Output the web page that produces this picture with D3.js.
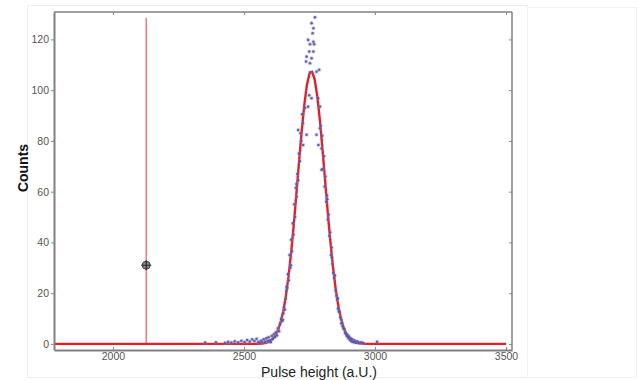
<!DOCTYPE html>
<html><head><meta charset="utf-8">
<script src="https://cdn.jsdelivr.net/npm/d3@7"></script>
<style>body{margin:0;background:#fff}svg{display:block}</style>
</head><body>
<svg id="chart" width="638" height="380"></svg>
<script>
// ---- data ----
const xTicks = [2000, 2500, 3000, 3500];
const yTicks = [0, 20, 40, 60, 80, 100, 120];
const xLabel = "Pulse height (a.U.)";
const yLabel = "Counts";

// measured histogram points
const dataX = [2352,2393,2428,2440,2452,2465,2478,2490,2502,2512,2522,2531,2540,2548,2555,
  2560,2565,2570,2575,2580,2585,2590,2594,2598,2602,2606,2610,2614,2618,2622,2626,2630,2634,2638,2642,2646,
  2650,2653,2656,2659,2662,2665,2668,2671,2674,2677,2680,2683,2686,2689,2692,2695,2698,2701,2704,2707,2710,
  2713,2716,2719,2722,2725,2726,2733,2739,2707,2648,2663,2679,2700,
  2737,2739,2745,2745,2749,2749,2752,2752,2752,2758,2758,2758,2762,2765,2765,2765,2768,2771,2777,2777,2783,2787,2790,2790,2784,2796,
  2793,2796,2799,2802,2805,2808,2811,2814,2817,2820,2823,2826,2829,2832,2835,2838,2841,2844,2847,2850,2853,2856,2859,2862,
  2865,2868,2871,2874,2877,2880,2883,2886,2889,2892,2895,2898,2901,2904,2907,2910,2914,2918,2922,2927,2933,2940,2948,2956,3008,
  2818,2836,2858,2872];
const dataY = [0.5,0.6,0.4,0.8,0.5,1.0,0.6,1.2,0.7,1.5,0.9,1.8,1.1,2.0,0.8,
  0.3,1.2,0.6,1.8,0.9,2.2,1.1,2.6,1.4,0.7,3.1,2.0,3.8,2.7,4.6,3.3,6.2,5.0,7.9,9.8,9.0,
  12.1,14.6,13.5,17.8,20.9,22.0,27.5,25.0,35.0,30.0,41.0,36.5,47.5,43.0,55.0,50.0,61.5,58.0,67.0,64.5,75.0,
  72.0,83.0,80.0,90.5,87.0,78.4,93.0,82.4,84.3,9.5,22.5,31.0,63.0,
  111.3,113.2,119.8,93.5,115.2,98.0,118.1,110.6,107.0,126.4,112.6,96.8,122.4,124.4,119.1,115.2,118.1,128.7,107.3,82.4,96.8,108.0,93.5,85.0,78.4,68.6,
  86.0,77.0,82.0,69.0,74.0,62.0,66.0,56.0,58.5,49.0,51.0,42.5,44.0,35.0,38.0,31.5,28.0,26.0,27.0,21.0,19.0,17.5,14.0,13.0,
  12.5,10.5,9.6,8.3,7.0,6.2,5.8,4.4,4.0,3.1,3.6,2.3,2.9,1.6,2.2,1.0,1.8,0.7,1.3,0.5,1.0,0.4,0.6,0.3,0.8,
  57.0,34.0,18.0,8.0];

// gaussian fit curve
const fitX = [1775,2540,2550,2560,2570,2580,2590,2600,2610,2620,2630,2640,2650,2660,2670,2680,2690,2700,2710,2720,2730,2740,2750,2760,
  2770,2780,2790,2800,2810,2820,2830,2840,2850,2860,2870,2880,2890,2900,2910,2920,2930,2940,2950,2960,3500];
const fitY = [0,0,0.04,0.08,0.17,0.33,0.62,1.13,1.98,3.34,5.45,8.55,12.9,18.9,26.5,35.9,46.9,59.0,71.5,83.5,93.9,101.9,106.5,107.3,
  104.2,97.5,87.9,76.4,64.0,51.6,40.1,30.1,21.7,15.1,10.1,6.55,4.08,2.45,1.42,0.79,0.42,0.22,0.11,0.05,0];

// threshold line and marker
const thresholdX = [2127, 2127];
const thresholdY = [0, 128.5];
const markerX = [2127];
const markerY = [31];

// ---- drawing ----
const svg = d3.select("#chart");
const L = 54, R = 512, T = 12, B = 350;
const x = d3.scaleLinear().domain([1775, 3523]).range([L, R]);
const y = d3.scaleLinear().domain([-2.4, 130.8]).range([B, T]);

// faint figure frames
svg.append("rect").attr("x", 27.5).attr("y", 5.5).attr("width", 500).attr("height", 372)
  .attr("fill", "none").attr("stroke", "#eeeeee");
svg.append("rect").attr("x", 527.5).attr("y", 7.5).attr("width", 109).attr("height", 370)
  .attr("fill", "none").attr("stroke", "#f2f2f2");

svg.append("rect").attr("x", L).attr("y", T).attr("width", R - L).attr("height", B - T).attr("fill", "#fff");

const plot = svg.append("g");

// threshold vertical line
plot.append("line")
  .attr("x1", x(thresholdX[0])).attr("x2", x(thresholdX[1]))
  .attr("y1", y(thresholdY[0])).attr("y2", y(thresholdY[1]))
  .attr("stroke", "#ee7a7a").attr("stroke-width", 1.5);

// fit curve
const fit = fitX.map((d, i) => [d, fitY[i]]);
plot.append("path").datum(fit)
  .attr("d", d3.line().x(d => x(d[0])).y(d => y(d[1])))
  .attr("fill", "none").attr("stroke", "#e0202a").attr("stroke-width", 2.4)
  .attr("stroke-linejoin", "round");

// scatter points (on top of the fit)
const pts = dataX.map((d, i) => [d, dataY[i]]);
plot.selectAll("circle.halo").data(pts).enter().append("circle")
  .attr("cx", d => x(d[0])).attr("cy", d => y(d[1]))
  .attr("r", 2.2).attr("fill", "#9a9ad0").attr("fill-opacity", 0.35);
plot.selectAll("circle.pt").data(pts).enter().append("circle")
  .attr("class", "pt")
  .attr("cx", d => x(d[0])).attr("cy", d => y(d[1]))
  .attr("r", 1.3).attr("fill", "#5555a8").attr("fill-opacity", 0.9);

// marker
const mk = plot.append("g").attr("transform", `translate(${x(markerX[0])},${y(markerY[0])})`);
mk.append("circle").attr("r", 4).attr("fill", "#8a8a8a").attr("stroke", "#3a3a3a").attr("stroke-width", 1);
mk.append("path").attr("d", "M-5,0H5M0,-5V5").attr("stroke", "#2a2a2a").attr("stroke-width", 1.2);

// frame
const axisColor = "#808080";
svg.append("line").attr("x1", L).attr("x2", R).attr("y1", T).attr("y2", T).attr("stroke", axisColor).attr("stroke-width", 1.5);
svg.append("line").attr("x1", R).attr("x2", R).attr("y1", T).attr("y2", B).attr("stroke", axisColor).attr("stroke-width", 1.5);

// axes
svg.append("g").attr("transform", `translate(${L},0)`)
  .call(d3.axisLeft(y).tickValues(yTicks).tickSize(3).tickPadding(2).tickSizeOuter(0));
svg.append("g").attr("transform", `translate(0,${B})`)
  .call(d3.axisBottom(x).tickValues(xTicks).tickSize(-3).tickPadding(3).tickFormat(d3.format("d")).tickSizeOuter(0));
svg.append("g").attr("transform", `translate(0,${T})`)
  .call(d3.axisTop(x).tickValues(xTicks).tickSize(-3).tickFormat("").tickSizeOuter(0))
  .call(g => g.select(".domain").remove());
svg.append("g").attr("transform", `translate(${R},0)`)
  .call(d3.axisRight(y).tickValues(yTicks).tickSize(-3).tickFormat("").tickSizeOuter(0))
  .call(g => g.select(".domain").remove());

svg.selectAll(".domain").attr("stroke", axisColor).attr("stroke-width", 2);
svg.selectAll(".tick line").attr("stroke", "#888");
svg.selectAll(".tick text").attr("fill", "#555").attr("font-family", "Arial, 'Liberation Sans', sans-serif").attr("font-size", 10.5);

// labels
svg.append("text").attr("x", 319).attr("y", 376.5).attr("text-anchor", "middle")
  .attr("font-family", "Arial, 'Liberation Sans', sans-serif").attr("font-size", 14).attr("fill", "#222")
  .text(xLabel);
svg.append("text").attr("transform", "translate(28,168) rotate(-90)").attr("text-anchor", "middle")
  .attr("font-family", "Arial, 'Liberation Sans', sans-serif").attr("font-size", 14).attr("font-weight", "bold").attr("fill", "#111")
  .text(yLabel);
</script>
</body></html>
